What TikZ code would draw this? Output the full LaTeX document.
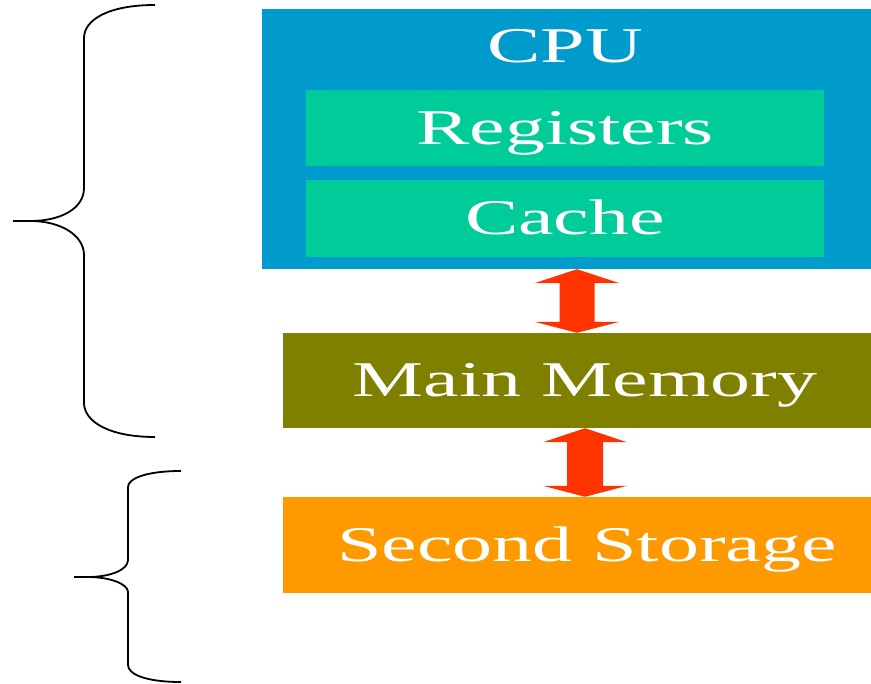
\documentclass[tikz,border=0pt]{standalone}
\usepackage{fontspec}
\setmainfont{Liberation Serif}
\newfontfamily\widefont[FakeStretch=1.6]{Liberation Serif}
\usetikzlibrary{calc}
\definecolor{cpublue}{RGB}{0,155,205}
\definecolor{cellgreen}{RGB}{0,204,153}
\definecolor{memolive}{RGB}{128,128,0}
\definecolor{storeorange}{RGB}{255,153,0}
\definecolor{arrred}{RGB}{255,51,0}
\tikzset{
  box/.style={draw=none, rectangle, inner sep=0pt, text=white,
    font=\widefont\fontsize{50}{60}\selectfont, text height=33pt, text depth=0pt},
  brace/.style={draw=black, line width=1.8pt},
  blockarr/.style={fill=arrred, draw=none}
}
\begin{document}
\begin{tikzpicture}[x=1pt,y=-1pt]
\useasboundingbox (0,0) rectangle (871,684);
\fill[white] (0,0) rectangle (871,684);
% boxes
\node[box, fill=cpublue, minimum width=609pt, minimum height=260pt] (cpu) at (566.5,139) {};
\node[box] (cputxt) at (565,46) {CPU};
\node[box, fill=cellgreen, minimum width=518pt, minimum height=76pt] (reg) at (565,128) {Registers};
\node[box, fill=cellgreen, minimum width=518pt, minimum height=77pt] (cache) at (565,218.5) {Cache};
\node[box, fill=memolive, minimum width=588pt, minimum height=95pt] (mm) at (577,380.5) {\hspace*{16pt}Main Memory};
\node[box, fill=storeorange, minimum width=588pt, minimum height=96pt] (ss) at (577,545) {\hspace*{20pt}Second Storage};
% arrows
\coordinate (a1t) at (cpu.south -| mm.north);
\coordinate (a1b) at (mm.north);
\fill[blockarr] (a1t) -- ++(-42.5,14) -- ++(25,0) -- ($(a1b)+(-17.5,-11)$) -- ++(-25,0) -- (a1b)
  -- ++(42.5,-11) -- ++(-25,0) -- ($(a1t)+(17.5,14)$) -- ++(25,0) -- cycle;
\coordinate (a2t) at ($(mm.south)+(8,0)$);
\coordinate (a2b) at ($(ss.north)+(8,0)$);
\fill[blockarr] (a2t) -- ++(-42,14) -- ++(24,0) -- ($(a2b)+(-18,-11)$) -- ++(-24,0) -- (a2b)
  -- ++(42,-11) -- ++(-24,0) -- ($(a2t)+(18,14)$) -- ++(24,0) -- cycle;
% braces
\draw[brace] (155,5) .. controls (108,5) and (84,20) .. (84,38) -- (84,188)
  .. controls (84,208) and (62,221) .. (30,221) -- (13,221);
\draw[brace] (30,221) .. controls (62,221) and (84,236) .. (84,255) -- (84,403)
  .. controls (84,421) and (108,437) .. (155,437);
\draw[brace] (181,471) .. controls (145,471) and (128,479) .. (128,487) -- (128,560)
  .. controls (128,570) and (110,577) .. (88,577) -- (74,577);
\draw[brace] (88,577) .. controls (110,577) and (128,584) .. (128,592) -- (128,665)
  .. controls (128,674) and (145,682) .. (181,682);
\end{tikzpicture}
\end{document}
